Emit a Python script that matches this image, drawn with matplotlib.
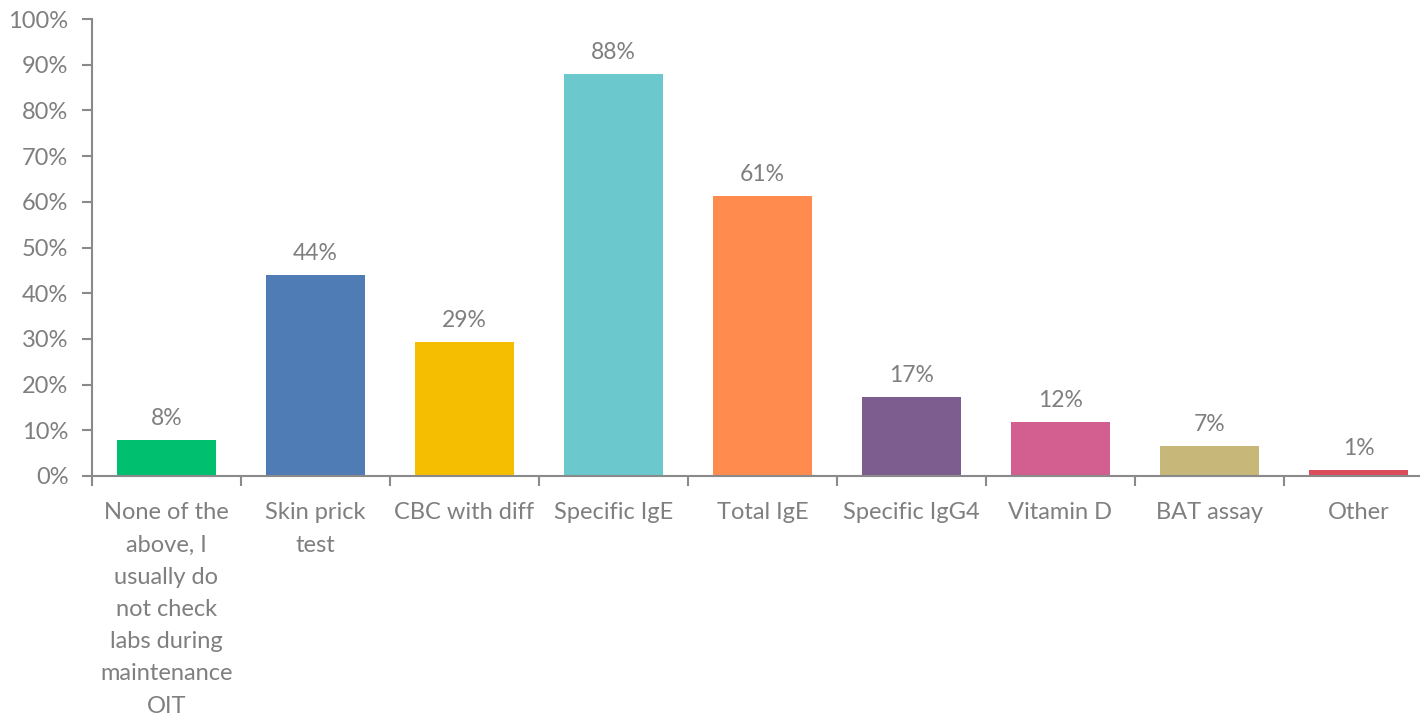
import numpy as np
import matplotlib.pyplot as plt
from matplotlib.ticker import FuncFormatter

plt.rcParams['font.family'] = ['Lato', 'DejaVu Sans']

categories = ['None of the\nabove, I\nusually do\nnot check\nlabs during\nmaintenance\nOIT',
              'Skin prick\ntest', 'CBC with diff', 'Specific IgE', 'Total IgE',
              'Specific IgG4', 'Vitamin D', 'BAT assay', 'Other']
shares = [7.9, 44.0, 29.3, 88.0, 61.3, 17.3, 11.8, 6.6, 1.3]
colours = ['#00BF6F', '#507CB6', '#F6BE00', '#6BC8CD', '#FF8B4F',
           '#7D5D90', '#D25F90', '#C7B879', '#DB4D5C']

grey = '#7F7F7F'
axis_grey = '#8A8A8A'

fig = plt.figure(figsize=(14.2, 7.18), dpi=100)
ax = fig.add_axes([92 / 1420, 242 / 718, 1341 / 1420, 457 / 718])

x = np.arange(len(categories))
bars = ax.bar(x, shares, width=0.67, color=colours)

for b, v in zip(bars, shares):
    ax.annotate(f'{v:.0f}%', (b.get_x() + b.get_width() / 2, v),
                xytext=(0, 8), textcoords='offset points',
                ha='center', va='bottom', fontsize=16.5, color=grey)

ax.set_xlim(-0.5, len(categories) - 0.5)
ax.set_ylim(0, 100)
ax.set_yticks(np.arange(0, 101, 10))
ax.yaxis.set_major_formatter(FuncFormatter(lambda v, _: f'{v:.0f}%'))

# category labels sit between boundary ticks
ax.set_xticks(x, labels=categories)
ax.set_xticks(np.arange(-0.5, len(categories), 1), minor=True)
ax.tick_params(axis='x', which='major', length=0, pad=19, labelsize=17, labelcolor=grey)
ax.tick_params(axis='x', which='minor', length=7, width=1.5, color=axis_grey)
ax.tick_params(axis='y', length=7, width=1.5, color=axis_grey, labelsize=17,
               labelcolor=grey, pad=10)
for lbl in ax.get_xticklabels():
    lbl.set_linespacing(1.66)
    lbl.set_va('top')

for s in ['top', 'right']:
    ax.spines[s].set_visible(False)
for s in ['left', 'bottom']:
    ax.spines[s].set_color(axis_grey)
    ax.spines[s].set_linewidth(1.5)

fig.savefig('out.png', dpi=100)
